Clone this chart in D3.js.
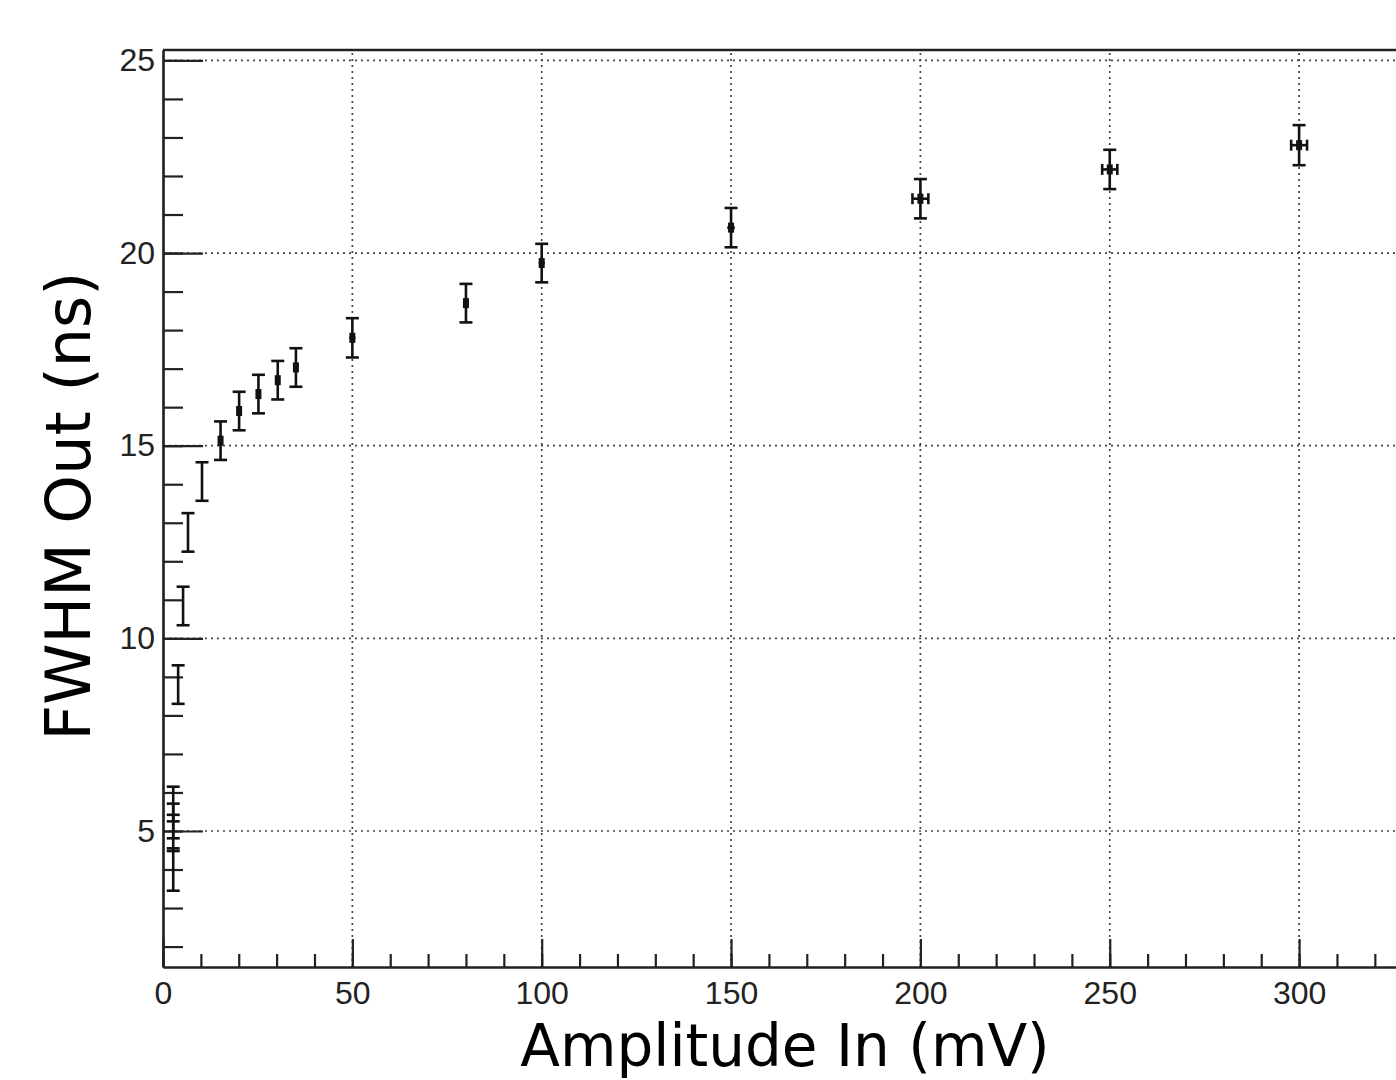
<!DOCTYPE html>
<html>
<head>
<meta charset="utf-8">
<script src="https://cdn.jsdelivr.net/npm/d3@7"></script>
<style>
  body { margin: 0; background: #fff; }
  svg { display: block; }
</style>
</head>
<body>
<svg id="chart" width="1396" height="1080"></svg>
<script>
'use strict';

// measured points (amplitude in mV, FWHM out in ns)
var ampIn   = [2.7, 2.7, 2.7, 2.7, 4.0, 5.3, 6.6, 10.3, 15.2, 20.1, 25.2, 30.3, 35.1, 50, 80, 100, 150, 200, 250, 300];
var fwhmOut = [4.0, 4.95, 5.26, 5.7, 8.8, 10.84, 12.75, 14.07, 15.13, 15.9, 16.34, 16.7, 17.03, 17.8, 18.7, 19.74, 20.66, 21.41, 22.17, 22.8];
var ampErr  = [0, 0, 0, 0, 0, 0, 0, 0, 0.3, 0.3, 0.3, 0.3, 0.3, 0.8, 0.5, 0.8, 1.0, 2.1, 2.0, 2.1];
var fwhmErr = [0.55, 0.47, 0.45, 0.45, 0.5, 0.5, 0.5, 0.5, 0.5, 0.5, 0.5, 0.5, 0.5, 0.51, 0.5, 0.5, 0.51, 0.51, 0.51, 0.52];

var xMajor = [0, 50, 100, 150, 200, 250, 300];
var yMajor = [5, 10, 15, 20, 25];
var xMinor = d3.range(0, 331, 10);
var yMinor = d3.range(2, 26, 1);

var svg = d3.select('#chart');

var x = d3.scaleLinear().domain([0, 330]).range([163, 163 + 330 * 3.787]);
var y = d3.scaleLinear().domain([1.47, 25.27]).range([967, 50]);

var x0 = x.range()[0], y0 = y.range()[0], yTop = y.range()[1];

// dotted grid
var grid = svg.append('g').attr('stroke', '#444').attr('stroke-width', 1.7)
  .attr('stroke-dasharray', '2,4');
grid.selectAll('line.gx').data(xMajor.filter(function (d) { return d > 0; })).enter().append('line')
  .attr('class', 'gx')
  .attr('x1', function (d) { return x(d); }).attr('x2', function (d) { return x(d); })
  .attr('y1', y0).attr('y2', yTop);
grid.selectAll('line.gy').data(yMajor).enter().append('line')
  .attr('class', 'gy')
  .attr('x1', x0).attr('x2', 1396)
  .attr('y1', function (d) { return y(d); }).attr('y2', function (d) { return y(d); });

// top frame
svg.append('line').attr('x1', x0).attr('x2', 1396).attr('y1', yTop).attr('y2', yTop)
  .attr('stroke', '#222').attr('stroke-width', 2.5);

// axes
var tickFont = function (g) {
  g.selectAll('text').attr('font-family', 'Liberation Sans, Arial, sans-serif')
    .attr('font-size', 32).attr('fill', '#222');
  g.selectAll('line, path').attr('stroke', '#222').attr('stroke-width', 2.2);
};

svg.append('g').attr('transform', 'translate(0,' + y0 + ')')
  .call(d3.axisBottom(x).tickValues(xMinor).tickFormat('').tickSize(-13).tickSizeOuter(0))
  .call(tickFont);
svg.append('g').attr('transform', 'translate(0,' + y0 + ')')
  .call(d3.axisBottom(x).tickValues(xMajor).tickFormat(d3.format('d')).tickSize(-28).tickSizeOuter(0).tickPadding(14))
  .call(tickFont)
  .call(function (g) { g.selectAll('text').attr('dy', '0.71em'); });

svg.append('g').attr('transform', 'translate(' + x0 + ',0)')
  .call(d3.axisLeft(y).tickValues(yMinor).tickFormat('').tickSize(-20).tickSizeOuter(0))
  .call(tickFont);
svg.append('g').attr('transform', 'translate(' + x0 + ',0)')
  .call(d3.axisLeft(y).tickValues(yMajor).tickFormat(d3.format('d')).tickSize(-40).tickSizeOuter(0).tickPadding(8))
  .call(tickFont);

// error bars and markers
var pts = ampIn.map(function (a, i) {
  return { x: a, y: fwhmOut[i], ex: ampErr[i], ey: fwhmErr[i] };
});
var eb = svg.append('g').attr('stroke', '#111').attr('stroke-width', 2.6);
var pg = eb.selectAll('g').data(pts).enter().append('g');
pg.append('line')
  .attr('x1', function (d) { return x(d.x); }).attr('x2', function (d) { return x(d.x); })
  .attr('y1', function (d) { return y(d.y - d.ey); }).attr('y2', function (d) { return y(d.y + d.ey); });
pg.filter(function (d) { return d.ex > 0.5; }).append('line')
  .attr('x1', function (d) { return x(d.x - d.ex); }).attr('x2', function (d) { return x(d.x + d.ex); })
  .attr('y1', function (d) { return y(d.y); }).attr('y2', function (d) { return y(d.y); });
[-1, 1].forEach(function (s) {
  pg.append('line')
    .attr('x1', function (d) { return x(d.x) - 6.5; }).attr('x2', function (d) { return x(d.x) + 6.5; })
    .attr('y1', function (d) { return y(d.y + s * d.ey); }).attr('y2', function (d) { return y(d.y + s * d.ey); });
});
pg.filter(function (d) { return d.ex > 1.5; }).each(function (d) {
  var g = d3.select(this);
  [-1, 1].forEach(function (s) {
    g.append('line')
      .attr('x1', x(d.x + s * d.ex)).attr('x2', x(d.x + s * d.ex))
      .attr('y1', y(d.y) - 5.5).attr('y2', y(d.y) + 5.5);
  });
});
svg.append('g').selectAll('rect').data(pts.filter(function (d) { return d.x >= 15; })).enter().append('rect')
  .attr('x', function (d) { return x(d.x) - 3; })
  .attr('y', function (d) { return y(d.y) - 5; })
  .attr('width', 6).attr('height', 10)
  .attr('fill', '#111');

// axis titles
svg.append('text')
  .attr('x', 785).attr('y', 1066)
  .attr('text-anchor', 'middle')
  .attr('font-family', 'DejaVu Sans, sans-serif').attr('font-size', 58)
  .attr('fill', '#000')
  .text('Amplitude In (mV)');
svg.append('text')
  .attr('transform', 'translate(90,506) rotate(-90)')
  .attr('text-anchor', 'middle')
  .attr('font-family', 'DejaVu Sans, sans-serif').attr('font-size', 62)
  .attr('fill', '#000')
  .text('FWHM Out (ns)');
</script>
</body>
</html>
